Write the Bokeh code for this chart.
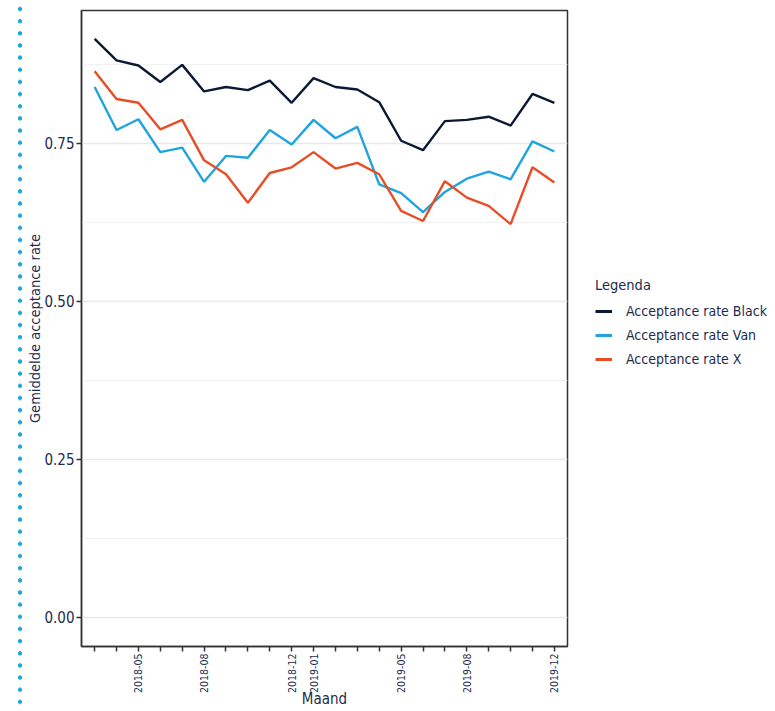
import numpy as np
from bokeh.plotting import figure
from bokeh.models import (ColumnDataSource, Legend, LegendItem, FixedTicker,
                          Range1d, NumeralTickFormatter, Div)
from bokeh.layouts import row
from bokeh.embed import file_html
from bokeh.resources import INLINE

# ---------------- data ----------------
months = ["2018-03", "2018-04", "2018-05", "2018-06", "2018-07", "2018-08",
          "2018-09", "2018-10", "2018-11", "2018-12", "2019-01", "2019-02",
          "2019-03", "2019-04", "2019-05", "2019-06", "2019-07", "2019-08",
          "2019-09", "2019-10", "2019-11", "2019-12"]
shown_labels = ["2018-05", "2018-08", "2018-12", "2019-01",
                "2019-05", "2019-08", "2019-12"]
rate_black = [0.915, 0.881, 0.873, 0.847, 0.874, 0.832, 0.839, 0.834, 0.849,
              0.814, 0.853, 0.839, 0.835, 0.815, 0.754, 0.739, 0.785, 0.787,
              0.792, 0.778, 0.828, 0.814]
rate_van = [0.839, 0.771, 0.788, 0.736, 0.743, 0.689, 0.730, 0.727, 0.771,
            0.748, 0.787, 0.758, 0.776, 0.685, 0.671, 0.641, 0.673, 0.694,
            0.705, 0.693, 0.753, 0.737]
rate_x = [0.864, 0.820, 0.814, 0.772, 0.787, 0.723, 0.701, 0.656, 0.703,
          0.712, 0.736, 0.710, 0.719, 0.701, 0.643, 0.627, 0.690, 0.664,
          0.651, 0.622, 0.712, 0.688]
series_names = ["Acceptance rate Black", "Acceptance rate Van", "Acceptance rate X"]
y_ticks = [0.0, 0.25, 0.5, 0.75]
y_minor = [0.125, 0.375, 0.625, 0.875]

# ---------------- style ----------------
FONT = "DejaVu Sans Condensed"
TXT = "#1d2c4c"
COLORS = ["#0b1a34", "#1ea5dd", "#e84e26"]
H = 711

x_idx = list(range(len(months)))
src = ColumnDataSource(dict(x=x_idx, black=rate_black, van=rate_van, xr=rate_x))

p = figure(width=545, height=H, output_backend="svg", toolbar_location=None,
           x_range=Range1d(-0.6, len(months) - 0.4),
           y_range=Range1d(-0.046, 0.960),
           min_border_left=57, min_border_right=2,
           min_border_top=10, min_border_bottom=65)
p.background_fill_color = "white"
p.border_fill_color = "white"
p.outline_line_color = "#333333"
p.outline_line_width = 1.5

renderers = []
for col, c in zip(["black", "van", "xr"], COLORS):
    renderers.append(p.line("x", col, source=src, line_color=c, line_width=2.4))

# x axis
xa = p.xaxis[0]
xa.ticker = FixedTicker(ticks=x_idx, minor_ticks=[])
xa.major_label_overrides = {i: (m if m in shown_labels else "") for i, m in zip(x_idx, months)}
xa.major_label_orientation = np.pi / 2
xa.major_label_text_font = FONT
xa.major_label_text_font_size = "10.5px"
xa.major_label_text_color = TXT
xa.major_label_standoff = 2
xa.axis_label = "Maand"
xa.axis_label_text_font = FONT
xa.axis_label_text_font_size = "15px"
xa.axis_label_text_font_style = "normal"
xa.axis_label_text_color = TXT
xa.axis_label_standoff = -6

# y axis
ya = p.yaxis[0]
ya.ticker = FixedTicker(ticks=y_ticks, minor_ticks=y_minor)
ya.formatter = NumeralTickFormatter(format="0.00")
ya.major_label_text_font = FONT
ya.major_label_text_font_size = "15px"
ya.major_label_text_color = TXT
ya.major_label_standoff = 2
ya.axis_label = "Gemiddelde acceptance rate"
ya.axis_label_text_font = FONT
ya.axis_label_text_font_size = "14.5px"
ya.axis_label_text_font_style = "normal"
ya.axis_label_text_color = TXT
ya.axis_label_standoff = -2

for ax in (xa, ya):
    ax.axis_line_color = "#333333"
    ax.axis_line_width = 1.5
    ax.major_tick_line_color = "#333333"
    ax.major_tick_line_width = 1.5
    ax.major_tick_out = 5
    ax.major_tick_in = 0
    ax.minor_tick_out = 0
    ax.minor_tick_in = 0

p.xgrid.grid_line_color = None
p.ygrid.grid_line_color = "#e8e8e8"
p.ygrid.grid_line_width = 1.6
p.ygrid.minor_grid_line_color = "#f1f1f1"
p.ygrid.minor_grid_line_width = 1.2

# legend panel (separate plot area to the right)
lf = figure(width=206, height=H, output_backend="svg", toolbar_location=None,
            x_range=Range1d(0, 1), y_range=Range1d(0, 1),
            x_axis_location=None, y_axis_location=None,
            min_border=0, min_border_left=0, min_border_right=0,
            min_border_top=10, min_border_bottom=65)
lf.grid.visible = False
lf.outline_line_color = None
lf.background_fill_color = "white"
lf.border_fill_color = "white"
# key-only renderers, kept outside the visible range of this panel
dummy = [lf.line(x=[5, 6], y=[5, 5], line_color=c, line_width=3) for c in COLORS]

legend = Legend(
    items=[LegendItem(label=n, renderers=[r]) for n, r in zip(series_names, dummy)],
    location=(26, 277), title="Legenda",
    title_text_font=FONT, title_text_font_size="14.5px", title_text_color=TXT,
    title_text_font_style="normal", title_standoff=8,
    label_text_font=FONT, label_text_font_size="14px", label_text_color=TXT,
    label_standoff=14, glyph_width=17, glyph_height=20, label_height=20,
    spacing=4, padding=8, margin=0,
    border_line_color=None, background_fill_alpha=0.0)
lf.add_layout(legend)

# decorative dotted line on the left
dots = Div(text=('<div style="width:24px;height:711px;'
                 'background-image:radial-gradient(circle at 20px 6px, #1aa7de 1.8px, rgba(26,167,222,0) 2.4px);'
                 'background-size:24px 12.17px;background-position:0 3px;"></div>'),
           width=24, height=H, margin=0)

layout = row(dots, p, lf)
open("out.html", "w").write(file_html(layout, INLINE))
